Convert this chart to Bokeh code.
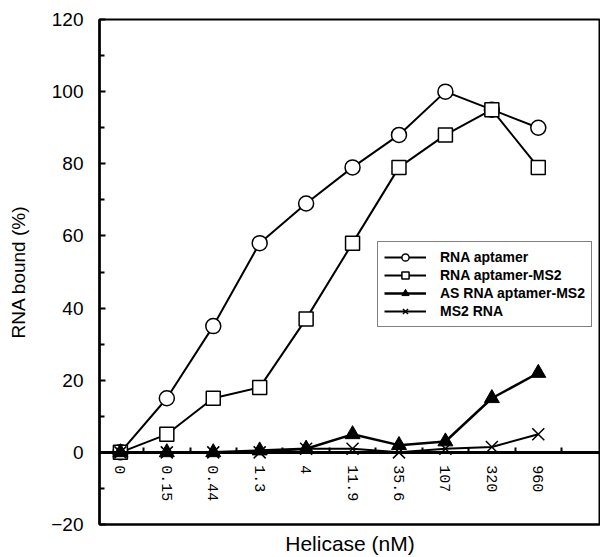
from bokeh.plotting import figure
from bokeh.models import (Range1d, FixedTicker, LinearAxis, Legend, LegendItem)
from bokeh.embed import file_html
from bokeh.resources import INLINE

# ---- data ----
categories = ["0", "0.15", "0.44", "1.3", "4", "11.9", "35.6", "107", "320", "960"]
rna_aptamer = [0, 15, 35, 58, 69, 79, 88, 100, 95, 90]
rna_aptamer_ms2 = [0, 5, 15, 18, 37, 58, 79, 88, 95, 79]
as_rna_aptamer_ms2 = [0, 0, 0, 0.5, 1, 5, 2, 3, 15, 22]
ms2_rna = [0, 0, 0, 0, 1, 1, 0, 1, 1.5, 5]
y_ticks = [-20, 0, 20, 40, 60, 80, 100, 120]
y_minor = [-10, 10, 30, 50, 70, 90, 110]

xs = list(range(len(categories)))

p = figure(width=600, height=557, output_backend="svg", toolbar_location=None,
           x_range=Range1d(-0.45, 10.34), y_range=Range1d(-20, 120),
           x_axis_location=None, y_axis_location="left",
           min_border_left=99, min_border_top=19, min_border_right=0,
           min_border_bottom=33)
p.grid.visible = False
p.background_fill_color = "white"
p.border_fill_color = "white"
p.outline_line_color = "black"
p.outline_line_width = 2

# y axis
ya = p.yaxis[0]
ya.ticker = FixedTicker(ticks=y_ticks, minor_ticks=y_minor)
ya.major_label_overrides = {-20: "\u221220"}
ya.axis_line_width = 2.5
ya.axis_line_color = "black"
ya.major_tick_in = 6
ya.major_tick_out = 0
ya.minor_tick_in = 5
ya.minor_tick_out = 0
ya.major_tick_line_width = 2
ya.minor_tick_line_width = 2
ya.major_tick_line_color = "black"
ya.minor_tick_line_color = "black"
ya.major_label_standoff = 16
ya.major_label_text_font = "Liberation Sans"
ya.major_label_text_font_size = "19px"
ya.major_label_text_color = "black"
ya.axis_label = "RNA bound (%)"
ya.axis_label_text_font = "Liberation Sans"
ya.axis_label_text_font_size = "19px"
ya.axis_label_text_font_style = "normal"
ya.axis_label_text_color = "black"
ya.axis_label_standoff = 19

# x axis at y = 0
xa = LinearAxis(fixed_location=0)
xa.ticker = FixedTicker(ticks=xs, minor_ticks=[i + 0.5 for i in xs])
xa.major_label_overrides = {i: c for i, c in zip(xs, categories)}
xa.major_label_orientation = "vertical"
xa.major_tick_line_color = None
xa.major_tick_in = 0
xa.major_tick_out = 0
xa.minor_tick_in = 5
xa.minor_tick_out = 0
xa.minor_tick_line_width = 2
xa.minor_tick_line_color = "black"
xa.axis_line_width = 3
xa.axis_line_color = "black"
xa.major_label_standoff = 13
xa.major_label_text_font = "Liberation Mono"
xa.major_label_text_font_size = "15px"
xa.major_label_text_color = "black"
p.add_layout(xa, "below")

# bottom axis carrying the title
xb = LinearAxis(ticker=FixedTicker(ticks=[]))
xb.major_tick_line_color = None
xb.minor_tick_line_color = None
xb.major_tick_out = 0
xb.major_label_standoff = 0
xb.axis_line_width = 2
xb.axis_line_color = "black"
xb.axis_label = "Helicase (nM)"
xb.axis_label_text_font = "Liberation Sans"
xb.axis_label_text_font_size = "21px"
xb.axis_label_text_font_style = "normal"
xb.axis_label_text_color = "black"
xb.axis_label_standoff = 7
p.add_layout(xb, "below")

# series
l1 = p.line(xs, rna_aptamer, line_color="black", line_width=2)
m1 = p.scatter(xs, rna_aptamer, marker="circle", size=15, fill_color="white",
               line_color="black", line_width=1.5)
l2 = p.line(xs, rna_aptamer_ms2, line_color="black", line_width=2)
m2 = p.scatter(xs, rna_aptamer_ms2, marker="square", size=14, fill_color="white",
               line_color="black", line_width=1.5)
l3 = p.line(xs, as_rna_aptamer_ms2, line_color="black", line_width=2.5)
m3 = p.scatter(xs, as_rna_aptamer_ms2, marker="triangle", size=15, fill_color="black",
               line_color="black", line_width=1)
l4 = p.line(xs, ms2_rna, line_color="black", line_width=2)
m4 = p.scatter(xs, ms2_rna, marker="x", size=17, line_color="black", line_width=1.5)

legend = Legend(items=[
    LegendItem(label="RNA aptamer", renderers=[l1, m1]),
    LegendItem(label="RNA aptamer-MS2", renderers=[l2, m2]),
    LegendItem(label="AS RNA aptamer-MS2", renderers=[l3, m3]),
    LegendItem(label="MS2 RNA", renderers=[l4, m4]),
], location=(278, 197))
legend.label_text_font = "Liberation Sans"
legend.label_text_font_style = "bold"
legend.label_text_font_size = "14px"
legend.label_text_color = "black"
legend.label_height = 18
legend.glyph_height = 18
legend.glyph_width = 42
legend.label_standoff = 14
legend.spacing = 0
legend.padding = 6
legend.margin = 0
legend.border_line_color = "black"
legend.border_line_width = 1
legend.background_fill_alpha = 1.0
p.add_layout(legend, "center")

open("out.html", "w").write(file_html(p, INLINE))
